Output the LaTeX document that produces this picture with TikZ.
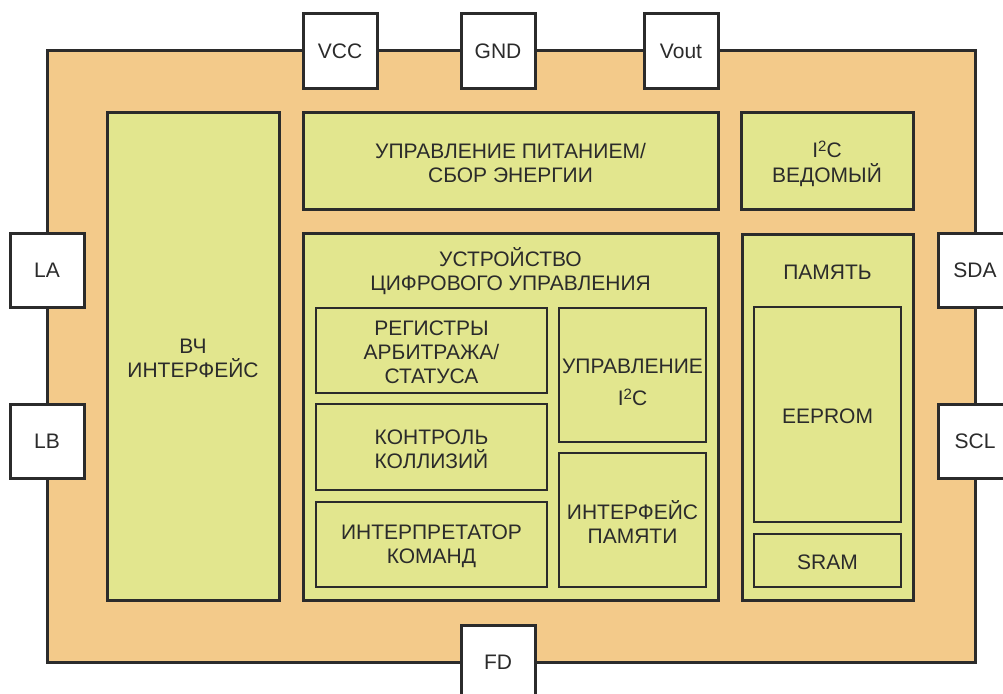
\documentclass[tikz,border=0pt]{standalone}
\usepackage{fontspec}
\setmainfont{Liberation Sans}
\usetikzlibrary{calc}
\definecolor{chip}{RGB}{243,202,138}
\definecolor{blk}{RGB}{226,230,142}
\definecolor{ln}{RGB}{43,43,43}
\newcommand{\suptwo}{\raisebox{6pt}{\fontsize{15}{15}\selectfont 2}}
\begin{document}
\begin{tikzpicture}[x=1pt,y=-1pt,
  every node/.style={font=\fontsize{21}{24}\selectfont, text=ln, align=center, inner sep=0pt, outer sep=0pt},
  pin/.style={draw=ln, line width=3pt, fill=white, minimum width=74pt, minimum height=74pt},
  outerblk/.style={draw=ln, line width=3pt, fill=blk, anchor=north west},
  innerblk/.style={draw=ln, line width=1.8pt, fill=blk, anchor=north west},
  lbl/.style={yshift=-2pt}]
\useasboundingbox (0,0) rectangle (1003,693);
\begin{scope}
\clip (0,0) rectangle (1003,693);
% chip body
\node[draw=ln, line width=3pt, fill=chip, anchor=north west, minimum width=928pt, minimum height=611pt] (chip) at (47,51) {};
% pins
\node[pin] (vcc) at (340,51) {VCC};
\node[pin] (gnd) at (498,51) {GND};
\node[pin] (vout) at (681,51) {Vout};
\node[pin] (la) at (47,270) {LA};
\node[pin] (lb) at (47,441) {LB};
\node[pin] (sda) at (975,270) {SDA};
\node[pin] (scl) at (975,441) {SCL};
\node[pin] (fd) at (498,662) {FD};
\end{scope}
% RF
\node[outerblk, minimum width=172pt, minimum height=488pt] (rf) at (107,112) {};
\node[lbl] at (rf.center) {ВЧ\\ИНТЕРФЕЙС};
% power
\node[outerblk, minimum width=415pt, minimum height=97pt] (pwr) at (303,112) {};
\node[lbl] at (pwr.center) {УПРАВЛЕНИЕ ПИТАНИЕМ/\\СБОР ЭНЕРГИИ};
% I2C slave
\node[outerblk, minimum width=172pt, minimum height=97pt] (slave) at (741,112) {};
\node[anchor=base] (slavea) at (827,157) {I\suptwo C};
\node[anchor=base] (slaveb) at (827,182) {ВЕДОМЫЙ};
% digital control
\node[outerblk, minimum width=415pt, minimum height=367pt] (dig) at (303,233) {};
\node[lbl] (digt) at ($(dig.north)+(0,36)$) {УСТРОЙСТВО\\ЦИФРОВОГО УПРАВЛЕНИЯ};
\node[innerblk, minimum width=231pt, minimum height=85pt] (regs) at (316,308) {};
\node[lbl] at (regs.center) {РЕГИСТРЫ\\АРБИТРАЖА/\\СТАТУСА};
\node[innerblk, minimum width=231pt, minimum height=86pt] (coll) at (316,404) {};
\node[lbl] at (coll.center) {КОНТРОЛЬ\\КОЛЛИЗИЙ};
\node[innerblk, minimum width=231pt, minimum height=85pt] (interp) at (316,502) {};
\node[lbl] at (interp.center) {ИНТЕРПРЕТАТОР\\КОМАНД};
\node[innerblk, minimum width=147pt, minimum height=134pt] (i2cc) at (559,308) {};
\node[anchor=base] (i2cca) at (632.5,373) {УПРАВЛЕНИЕ};
\node[anchor=base] (i2ccb) at (632.5,405) {I\suptwo C};
\node[innerblk, minimum width=147pt, minimum height=134pt] (memif) at (559,453) {};
\node[lbl] at (memif.center) {ИНТЕРФЕЙС\\ПАМЯТИ};
% memory
\node[outerblk, minimum width=171pt, minimum height=366pt] (mem) at (742,234) {};
\node[lbl] (memt) at ($(mem.north)+(0,36)$) {ПАМЯТЬ};
\node[innerblk, minimum width=147pt, minimum height=215pt] (eeprom) at (754,307) {};
\node[lbl] at (eeprom.center) {EEPROM};
\node[innerblk, minimum width=147pt, minimum height=53pt] (sram) at (754,534) {};
\node[lbl] at (sram.center) {SRAM};
\end{tikzpicture}
\end{document}
